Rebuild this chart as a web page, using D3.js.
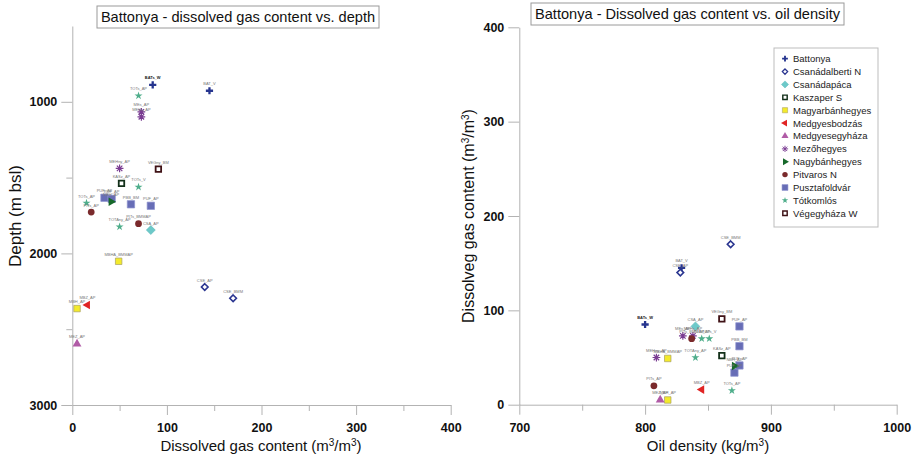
<!DOCTYPE html>
<html><head><meta charset="utf-8">
<script src="https://cdn.jsdelivr.net/npm/d3@7"></script>
<style>body{margin:0;background:#fff} svg{display:block;font-family:"Liberation Sans",Arial,sans-serif}</style>
</head><body><svg id="c" width="915" height="460"></svg>
<script>
// ---------- data ----------
const groups = ["Battonya","Csanádalberti N","Csanádapáca","Kaszaper S","Magyarbánhegyes","Medgyesbodzás","Medgyesegyháza","Mezőhegyes","Nagybánhegyes","Pitvaros N","Pusztaföldvár","Tótkomlós","Végegyháza W"];
const wellLabels = ["BATs_W","BAT_V","TOTs_AP","MEs_AP","MEHs_AP","MEHny_AP","VEGny_BM","KASz_AP","TOTs_V","PUF_AP","PUF_AP","NBH_AP","PBB_BM","PUF_AP","TOTs_AP","PITs_AP","TOTAny_AP","PITs_BMMAP","CSA_AP","MBHA_BMMAP","CSE_AP","CSE_BMM","MBZ_AP","MBH_AP","MEZ_AP"];
const wellGroup  = ["Battonya","Battonya","Tótkomlós","Mezőhegyes","Mezőhegyes","Mezőhegyes","Végegyháza W","Kaszaper S","Tótkomlós","Pusztaföldvár","Pusztaföldvár","Nagybánhegyes","Pusztaföldvár","Pusztaföldvár","Tótkomlós","Pitvaros N","Tótkomlós","Pitvaros N","Csanádapáca","Magyarbánhegyes","Csanádalberti N","Csanádalberti N","Medgyesbodzás","Magyarbánhegyes","Medgyesegyháza"];
const gasContent = [85,145,70,73,73,50,91,52,70,34,41.6,41,62,83,15,20,50,70,83,49,140,170,16,5,5];
const depth      = [888,927,960,1066,1099,1439,1444,1538,1562,1633,1640,1659,1676,1686,1668,1727,1824,1804,1846,2052,2222,2296,2340,2364,2597];
const oilDensity = [800,829,845,830,838,809,861,861,851,871,875,871,875,875,869,807,840,837,840,818,828,868,845,818,812];

const depthTicks = [1000,2000,3000], depthMinor = [1500,2500];
const gasTicks = [0,100,200,300,400], gasMinor = [50,150,250,350];
const densityTicks = [700,800,900,1000], densityMinor = [750,850,950];

// ---------- symbols ----------
const plus = {draw(c,s){const r=Math.sqrt(s)/2;c.moveTo(-r,0);c.lineTo(r,0);c.moveTo(0,-r);c.lineTo(0,r);}};
const aster = {draw(c,s){const r=Math.sqrt(s)/2;for(let k=0;k<4;k++){const a=k*Math.PI/4;c.moveTo(-r*Math.cos(a),-r*Math.sin(a));c.lineTo(r*Math.cos(a),r*Math.sin(a));}}};
const diamond = {draw(c,s){const r=Math.sqrt(s/2);c.moveTo(0,-r);c.lineTo(r,0);c.lineTo(0,r);c.lineTo(-r,0);c.closePath();}};
const sym = {
 "Battonya":       {t:plus, s:52, fill:"none", stroke:"#26358f", sw:2.3},
 "Csanádalberti N":{t:diamond, s:22, fill:"#fff", stroke:"#2a3590", sw:1.6},
 "Csanádapáca":    {t:diamond, s:40, fill:"#6cc9c9", stroke:"#5bb8b8", sw:0.6},
 "Kaszaper S":     {t:d3.symbolSquare, s:30, fill:"#fff", stroke:"#13301a", sw:1.8},
 "Magyarbánhegyes":{t:d3.symbolSquare, s:42, fill:"#f3ea2c", stroke:"#a8a060", sw:0.7},
 "Medgyesbodzás":  {t:d3.symbolTriangle, s:32, fill:"#e02424", stroke:"none", sw:0, rot:-90},
 "Medgyesegyháza": {t:d3.symbolTriangle, s:34, fill:"#b05ba6", stroke:"none", sw:0, rot:0},
 "Mezőhegyes":     {t:aster, s:60, fill:"none", stroke:"#7a3c92", sw:1.2},
 "Nagybánhegyes":  {t:d3.symbolTriangle, s:32, fill:"#17692b", stroke:"none", sw:0, rot:90},
 "Pitvaros N":     {t:d3.symbolCircle, s:36, fill:"#7a2a2c", stroke:"none", sw:0},
 "Pusztaföldvár":  {t:d3.symbolSquare, s:54, fill:"#676db6", stroke:"#8d92cf", sw:0.7},
 "Tótkomlós":      {t:d3.symbolStar, s:20, fill:"#4fae8b", stroke:"none", sw:0},
 "Végegyháza W":   {t:d3.symbolSquare, s:30, fill:"#fff", stroke:"#3f1216", sw:1.8}
};
function drawSym(g, name, x, y, k){
  const o = sym[name];
  g.append("path").attr("d", d3.symbol().type(o.t).size(o.s*k*k)())
   .attr("transform", `translate(${x},${y}) rotate(${o.rot||0})`)
   .attr("fill", o.fill).attr("stroke", o.stroke).attr("stroke-width", o.sw*Math.max(k,0.8));
}

const svg = d3.select("#c");
const axisColor = "#b3b3b3";

function styleAxis(g){
  g.selectAll("path.domain").attr("stroke", axisColor).attr("stroke-width",1);
  g.selectAll(".tick line").attr("stroke", axisColor).attr("stroke-width",1);
  g.selectAll(".tick text").attr("font-family","'Liberation Sans',Arial,sans-serif").attr("font-weight","bold").attr("font-size",12.5).attr("fill","#111");
}

function panel(cfg){
  const {x, y, xMajor, xMinor, yMajor, yMinor, xv, yv, title, box, xTitle, xTitleX, yTitle, yTitleX, yTitleY} = cfg;
  const gx = svg.append("g").attr("transform",`translate(0,${y.range()[0]})`)
    .call(d3.axisBottom(x).tickValues(xMajor).tickSize(10).tickSizeOuter(0).tickPadding(8).tickFormat(d3.format("d")));
  styleAxis(gx);
  const gxm = svg.append("g").attr("transform",`translate(0,${y.range()[0]})`)
    .call(d3.axisBottom(x).tickValues(xMinor).tickSize(6).tickSizeOuter(0).tickFormat(""));
  gxm.select("path.domain").remove(); styleAxis(gxm);
  const gy = svg.append("g").attr("transform",`translate(${x.range()[0]},0)`)
    .call(d3.axisLeft(y).tickValues(yMajor).tickSize(11).tickSizeOuter(0).tickPadding(4).tickFormat(d3.format("d")));
  styleAxis(gy);
  if (yMinor.length){
    const gym = svg.append("g").attr("transform",`translate(${x.range()[0]},0)`)
      .call(d3.axisLeft(y).tickValues(yMinor).tickSize(6).tickSizeOuter(0).tickFormat(""));
    gym.select("path.domain").remove(); styleAxis(gym);
  }
  // title box
  svg.append("rect").attr("x",box[0]).attr("y",box[1]).attr("width",box[2]-box[0]).attr("height",box[3]-box[1])
    .attr("fill","#fff").attr("stroke","#9a9a9a").attr("stroke-width",1);
  svg.append("text").attr("x",(box[0]+box[2])/2).attr("y",box[3]-6).attr("text-anchor","middle")
    .attr("font-size",14.6).attr("fill","#111").text(title);
  // axis titles
  svg.append("text").attr("x",xTitleX).attr("y",451).attr("text-anchor","middle").attr("font-size",15).attr("fill","#111").html(xTitle);
  svg.append("text").attr("transform",`translate(${yTitleX},${yTitleY}) rotate(-90)`).attr("text-anchor","middle")
    .attr("font-size",cfg.yTitleSize).attr("fill","#111").html(yTitle);
  // points
  const gp = svg.append("g");
  wellLabels.forEach((lab,i)=>{
    drawSym(gp, wellGroup[i], x(xv[i]), y(yv[i]), 1);
  });
  const gl = svg.append("g");
  wellLabels.forEach((lab,i)=>{
    const px = x(xv[i]), py = y(yv[i]);
    gl.append("text").attr("x",px).attr("y",py-5.5).attr("text-anchor","middle")
      .attr("font-size",4).attr("fill", i===0 ? "#222" : "#777").attr("font-weight", i===0 ? "bold":"normal").text(lab);
  });
}

// left panel: gas content vs depth
const xL = d3.scaleLinear().domain([0,400]).range([72.3,450.7]);
const yL = d3.scaleLinear().domain([3000,500]).range([405,26]);
panel({x:xL, y:yL, xMajor:gasTicks, xMinor:gasMinor, yMajor:depthTicks, yMinor:depthMinor,
  xv:gasContent, yv:depth, title:"Battonya - dissolved gas content vs. depth", box:[97,6,379,28],
  xTitle:"Dissolved gas content (m<tspan font-size='10' dy='-5'>3</tspan><tspan dy='5'>/m</tspan><tspan font-size='10' dy='-5'>3</tspan><tspan dy='5'>)</tspan>",
  xTitleX:261, yTitle:"Depth (m bsl)", yTitleX:21, yTitleY:216, yTitleSize:17});

// right panel: oil density vs gas content
const xR = d3.scaleLinear().domain([700,1000]).range([519.3,896.7]);
const yR = d3.scaleLinear().domain([0,400]).range([404.7,27.3]);
panel({x:xR, y:yR, xMajor:densityTicks, xMinor:densityMinor, yMajor:gasTicks, yMinor:[],
  xv:oilDensity, yv:gasContent, title:"Battonya - Dissolved gas content vs. oil density", box:[531,3,844,25],
  xTitle:"Oil density (kg/m<tspan font-size='10' dy='-5'>3</tspan><tspan dy='5'>)</tspan>",
  xTitleX:708, yTitle:"Dissolveg gas content (m<tspan font-size='10' dy='-5'>3</tspan><tspan dy='5'>/m</tspan><tspan font-size='10' dy='-5'>3</tspan><tspan dy='5'>)</tspan>",
  yTitleX:474, yTitleY:216, yTitleSize:16});

// legend
const lg = svg.append("g");
lg.append("rect").attr("x",774).attr("y",48).attr("width",104).attr("height",179).attr("fill","#fff").attr("stroke","#bdbdbd");
groups.forEach((g,i)=>{
  const cy = 58.7 + i*12.88;
  drawSym(lg, g, 785, cy, 0.8);
  lg.append("text").attr("x",793).attr("y",cy+3.4).attr("font-size",9.5).attr("fill","#222").text(g);
});
</script></body></html>
